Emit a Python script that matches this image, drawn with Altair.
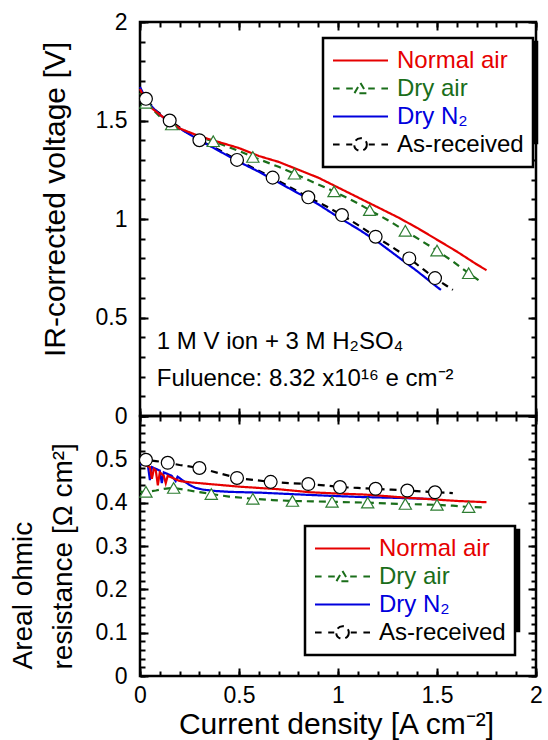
import altair as alt
import pandas as pd

FONT = "Liberation Sans"
SERIES = ["Normal air", "Dry air", "Dry N₂", "As-received"]
COLORS = ["#e60000", "#1a6e1a", "#0000dd", "#000000"]
DASHES = [[1, 0], [7, 5], [1, 0], [7, 5]]
TRI_COLOR = "#2e7d32"
ZW = "\u200b"

# ---------------- top panel: IR-corrected voltage [V]
TOP_NA_X = [0.00, 0.02, 0.05, 0.10, 0.15, 0.20, 0.30, 0.40, 0.50, 0.60, 0.70, 0.80, 0.90, 1.00, 1.10, 1.20, 1.30, 1.40, 1.50, 1.60, 1.70, 1.75]
TOP_NA_Y = [1.66, 1.62, 1.57, 1.53, 1.49, 1.46, 1.42, 1.39, 1.36, 1.32, 1.29, 1.25, 1.21, 1.16, 1.11, 1.06, 1.01, 0.955, 0.895, 0.835, 0.77, 0.74]
TOP_DA_X = [0.00, 0.03, 0.10, 0.16, 0.20, 0.30, 0.37, 0.50, 0.57, 0.70, 0.78, 0.90, 0.98, 1.10, 1.16, 1.25, 1.34, 1.42, 1.50, 1.58, 1.66, 1.73]
TOP_DA_Y = [1.64, 1.59, 1.52, 1.48, 1.455, 1.415, 1.395, 1.345, 1.315, 1.265, 1.23, 1.175, 1.14, 1.08, 1.045, 0.995, 0.94, 0.89, 0.84, 0.785, 0.725, 0.675]
TOP_DN_X = [0.00, 0.02, 0.05, 0.10, 0.15, 0.20, 0.30, 0.40, 0.50, 0.60, 0.70, 0.80, 0.90, 1.00, 1.10, 1.20, 1.30, 1.40, 1.50, 1.52]
TOP_DN_Y = [1.67, 1.63, 1.58, 1.53, 1.49, 1.46, 1.40, 1.345, 1.29, 1.24, 1.185, 1.13, 1.075, 1.01, 0.95, 0.885, 0.81, 0.735, 0.655, 0.64]
TOP_AR_X = [0.00, 0.03, 0.08, 0.15, 0.20, 0.30, 0.40, 0.49, 0.58, 0.67, 0.76, 0.85, 0.94, 1.02, 1.10, 1.19, 1.27, 1.36, 1.43, 1.49, 1.55, 1.58]
TOP_AR_Y = [1.65, 1.61, 1.55, 1.50, 1.465, 1.40, 1.35, 1.30, 1.255, 1.21, 1.16, 1.11, 1.065, 1.02, 0.97, 0.91, 0.86, 0.80, 0.745, 0.70, 0.66, 0.64]
TOP_TRI_X = [0.03, 0.16, 0.37, 0.57, 0.78, 0.98, 1.16, 1.34, 1.50, 1.66]
TOP_TRI_Y = [1.59, 1.48, 1.395, 1.315, 1.23, 1.14, 1.045, 0.94, 0.84, 0.725]
TOP_CIR_X = [0.03, 0.15, 0.30, 0.49, 0.67, 0.85, 1.02, 1.19, 1.36, 1.49]
TOP_CIR_Y = [1.61, 1.50, 1.40, 1.30, 1.21, 1.11, 1.02, 0.91, 0.80, 0.70]

# ---------------- bottom panel: areal ohmic resistance
BOT_NA_X = [0.01, 0.03, 0.05, 0.06, 0.07, 0.08, 0.09, 0.10, 0.11, 0.12, 0.13, 0.14, 0.16, 0.18, 0.20, 0.25, 0.30, 0.40, 0.50, 0.60, 0.70, 0.86, 1.00, 1.12, 1.19, 1.30, 1.40, 1.50, 1.60, 1.75]
BOT_NA_Y = [0.49, 0.486, 0.482, 0.455, 0.478, 0.474, 0.44, 0.47, 0.466, 0.462, 0.445, 0.462, 0.458, 0.454, 0.45, 0.447, 0.445, 0.441, 0.437, 0.434, 0.431, 0.424, 0.421, 0.419, 0.417, 0.413, 0.41, 0.407, 0.404, 0.401]
BOT_DA_X = [0.00, 0.03, 0.08, 0.12, 0.17, 0.25, 0.36, 0.45, 0.57, 0.67, 0.77, 0.87, 0.97, 1.06, 1.15, 1.25, 1.34, 1.42, 1.50, 1.58, 1.66, 1.73]
BOT_DA_Y = [0.425, 0.425, 0.428, 0.432, 0.434, 0.428, 0.42, 0.414, 0.409, 0.406, 0.404, 0.403, 0.402, 0.401, 0.40, 0.398, 0.397, 0.396, 0.395, 0.393, 0.39, 0.389]
BOT_DN_X = [0.00, 0.02, 0.04, 0.05, 0.06, 0.08, 0.10, 0.11, 0.12, 0.14, 0.16, 0.18, 0.19, 0.22, 0.25, 0.28, 0.32, 0.38, 0.45, 0.61, 0.80, 0.95, 1.12, 1.30, 1.50]
BOT_DN_Y = [0.488, 0.49, 0.486, 0.452, 0.482, 0.478, 0.474, 0.445, 0.47, 0.466, 0.462, 0.45, 0.46, 0.45, 0.441, 0.434, 0.43, 0.427, 0.425, 0.423, 0.419, 0.416, 0.413, 0.411, 0.408]
BOT_AR_X = [0.00, 0.03, 0.08, 0.14, 0.20, 0.30, 0.40, 0.49, 0.58, 0.66, 0.75, 0.85, 0.93, 1.01, 1.10, 1.19, 1.27, 1.35, 1.42, 1.49, 1.55, 1.58]
BOT_AR_Y = [0.50, 0.499, 0.496, 0.492, 0.487, 0.48, 0.468, 0.457, 0.452, 0.448, 0.445, 0.443, 0.44, 0.436, 0.434, 0.432, 0.43, 0.428, 0.426, 0.424, 0.423, 0.422]
BOT_TRI_X = [0.03, 0.17, 0.36, 0.57, 0.77, 0.97, 1.15, 1.34, 1.50, 1.66]
BOT_TRI_Y = [0.425, 0.434, 0.42, 0.409, 0.404, 0.402, 0.40, 0.397, 0.395, 0.39]
BOT_CIR_X = [0.03, 0.14, 0.30, 0.49, 0.66, 0.85, 1.01, 1.19, 1.35, 1.49]
BOT_CIR_Y = [0.499, 0.492, 0.48, 0.457, 0.448, 0.443, 0.436, 0.432, 0.428, 0.424]

NOTE_TEXT = ["1 M V ion + 3 M H₂SO₄", "Fuluence: 8.32 x10¹⁶ e cm⁻²"]
NOTE_X = [0.085, 0.085]
NOTE_Y = [0.375, 0.19]

X_LABELS = [0, 0.5, 1, 1.5, 2]
Y_TOP_LABELS = [0, 0.5, 1, 1.5, 2]
Y_BOT_LABELS = [0, 0.1, 0.2, 0.3, 0.4, 0.5]
X_MINOR = [round(i * 0.1, 2) for i in range(21)]
X_MAJOR = [0, 0.5, 1, 1.5, 2]
Y_TOP_MINOR = [round(i * 0.1, 2) for i in range(21)]
Y_TOP_MAJOR = [0, 0.5, 1, 1.5, 2]
Y_BOT_MINOR = [round(i * 0.02, 2) for i in range(31)]
Y_BOT_MAJOR = [round(i * 0.1, 1) for i in range(7)]

P_SOLID = "M-1,0H1"
P_TRI = "M-1,0H-0.76M-0.52,0H-0.28M0,-0.2L0.22,0.17L-0.22,0.17ZM0.28,0H0.52M0.76,0H1"
P_CIR = "M-1,0H-0.76M-0.52,0H-0.3M0.23,0A0.23,0.23 0 1,1 -0.23,0A0.23,0.23 0 1,1 0.23,0ZM0.3,0H0.52M0.76,0H1"
SHAPES = [P_SOLID, P_TRI, P_SOLID, P_CIR]

W = 396
H_TOP = 394
H_BOT = 260


def long_df(parts):
    rows = []
    for name, xs, ys in parts:
        for a, b in zip(xs, ys):
            rows.append({"series": name, "x": a, "y": b})
    return pd.DataFrame(rows)


def pick_expr(values):
    expr = "'%s'" % values[-1]
    for s, v in reversed(list(zip(SERIES[:-1], values[:-1]))):
        expr = "datum.value === '%s' ? '%s' : (%s)" % (s, v, expr)
    return expr


def tick_axis(orient, offset, values, size):
    return alt.Axis(orient=orient, offset=offset, values=values, labels=False, domain=False,
                    grid=False, title=None, ticks=True, tickSize=size, tickWidth=2,
                    tickColor="black")


LEG_COMMON = dict(orient="none", title=None, labelFont=FONT, labelFontSize=24,
                  symbolSize=3025, clipHeight=27, rowPadding=1, padding=9,
                  symbolOffset=0, symbolStrokeWidth=2, labelLimit=300)


def panel(lines_df, tri_df, cir_df, ydom, h, x_axis, y_axis, y_minor, y_major,
          lx, ly, note_df=None):
    xs = alt.Scale(domain=[0, 2], nice=False, zero=False)
    ys = alt.Scale(domain=ydom, nice=False, zero=False)
    leg = alt.Legend(legendX=lx, legendY=ly, strokeColor="black", fillColor="white",
                     symbolType=alt.ExprRef(pick_expr(SHAPES)),
                     labelColor=alt.ExprRef(pick_expr(COLORS)), labelOffset=8,
                     symbolFillColor="transparent", zindex=2, **LEG_COMMON)
    shadow = alt.Legend(legendX=lx + 4, legendY=ly + 4, strokeColor="black", fillColor="black",
                        labelExpr="''", labelOffset=135, symbolOpacity=0, zindex=1,
                        **LEG_COMMON)
    if x_axis is None:
        xl = alt.X("x:Q", scale=xs, axis=None)
    else:
        xl = alt.X("x:Q", scale=xs, axis=x_axis)
    lines = alt.Chart(lines_df).mark_line(strokeWidth=2.2).encode(
        x=xl,
        y=alt.Y("y:Q", scale=ys, axis=y_axis),
        color=alt.Color("series:N", scale=alt.Scale(domain=SERIES, range=COLORS), legend=leg),
        strokeDash=alt.StrokeDash("series:N", scale=alt.Scale(domain=SERIES, range=DASHES), legend=None),
    )
    tri = alt.Chart(tri_df).mark_point(shape="triangle-up", filled=True, fill="white",
                                       stroke=TRI_COLOR, strokeWidth=1.2, size=150, opacity=1).encode(
        x=alt.X("x:Q", scale=xs, axis=tick_axis("top", -h, X_MINOR, 5)),
        y=alt.Y("y:Q", scale=ys, axis=tick_axis("right", -W, y_minor, 5)),
    )
    cir = alt.Chart(cir_df).mark_point(shape="circle", filled=True, fill="white",
                                       stroke="black", strokeWidth=1.2, size=165, opacity=1).encode(
        x=alt.X("x:Q", scale=xs, axis=tick_axis("top", -h, X_MAJOR, 8)),
        y=alt.Y("y:Q", scale=ys, axis=tick_axis("right", -W, y_major, 8)),
    )
    if note_df is not None:
        l4 = alt.Chart(note_df).mark_text(align="left", baseline="middle", font=FONT,
                                          fontSize=24, color="black").encode(
            x=alt.X("x:Q", scale=xs, axis=tick_axis("bottom", -h, X_MINOR, 5)),
            y=alt.Y("y:Q", scale=ys, axis=tick_axis("left", -W, y_minor, 5)),
            text="text:N",
        )
    else:
        l4 = alt.Chart(cir_df).mark_point(opacity=0).encode(
            x=alt.X("x:Q", scale=xs, axis=tick_axis("bottom", -h, X_MINOR, 5)),
            y=alt.Y("y:Q", scale=ys, axis=tick_axis("left", -W, y_minor, 5)),
        )
    l5 = alt.Chart(lines_df).transform_calculate(box="datum.series + '%s'" % ZW).mark_point().encode(
        x=alt.X("x:Q", scale=xs, axis=tick_axis("bottom", -h, X_MAJOR, 8)),
        y=alt.Y("y:Q", scale=ys, axis=tick_axis("left", -W, y_major, 8)),
        opacity=alt.Opacity("box:N", scale=alt.Scale(domain=[s + ZW for s in SERIES], range=[0, 0, 0, 0]),
                            legend=shadow),
    )
    return alt.layer(lines, tri, cir, l4, l5).resolve_axis(
        x="independent", y="independent").properties(width=W, height=h)


top_lines = long_df([("As-received", TOP_AR_X, TOP_AR_Y), ("Dry air", TOP_DA_X, TOP_DA_Y),
                     ("Dry N₂", TOP_DN_X, TOP_DN_Y), ("Normal air", TOP_NA_X, TOP_NA_Y)])
bot_lines = long_df([("As-received", BOT_AR_X, BOT_AR_Y), ("Dry air", BOT_DA_X, BOT_DA_Y),
                     ("Dry N₂", BOT_DN_X, BOT_DN_Y), ("Normal air", BOT_NA_X, BOT_NA_Y)])
top_tri = pd.DataFrame({"x": TOP_TRI_X, "y": TOP_TRI_Y})
top_cir = pd.DataFrame({"x": TOP_CIR_X, "y": TOP_CIR_Y})
bot_tri = pd.DataFrame({"x": BOT_TRI_X, "y": BOT_TRI_Y})
bot_cir = pd.DataFrame({"x": BOT_CIR_X, "y": BOT_CIR_Y})
notes = pd.DataFrame({"text": NOTE_TEXT, "x": NOTE_X, "y": NOTE_Y})

common = dict(labelFont=FONT, labelFontSize=23, labelColor="black", ticks=False,
              domain=False, grid=False, labelFlush=False, labelOverlap=False,
              titleFont=FONT, titleFontWeight="normal", titleColor="black",
              titleBaseline="middle")
top_y_axis = alt.Axis(orient="left", values=Y_TOP_LABELS, format="~g", labelPadding=13,
                      title="IR-corrected voltage [V]", titleFontSize=30, titleX=-85,
                      titleY=177, titleAngle=270, titleAlign="center", **common)
bot_y_axis = alt.Axis(orient="left", values=Y_BOT_LABELS, format="~g", labelPadding=13,
                      title=["Areal ohmic", "resistance [Ω cm²]"], titleFontSize=28,
                      titleLineHeight=40, titleX=-117, titleY=253, titleAngle=270,
                      titleAlign="left", **common)
bot_x_axis = alt.Axis(orient="bottom", values=X_LABELS, format="~g", labelPadding=8,
                      title="Current density [A cm⁻²]", titleFontSize=30, titleX=196,
                      titleY=48, titleAlign="center", **common)

top = panel(top_lines, top_tri, top_cir, [0, 2], H_TOP, None, top_y_axis,
            Y_TOP_MINOR, Y_TOP_MAJOR, 183, 16, notes)
bot = panel(bot_lines, bot_tri, bot_cir, [0, 0.6], H_BOT, bot_x_axis, bot_y_axis,
            Y_BOT_MINOR, Y_BOT_MAJOR, 165, 110)

chart = alt.vconcat(top, bot, spacing=0, bounds="flush").resolve_scale(
    color="independent", strokeDash="independent", opacity="independent"
).resolve_legend(color="independent", opacity="independent").properties(
    padding={"left": 7, "top": 9, "right": 2, "bottom": 2},
).configure_view(stroke="black", strokeWidth=2.5).configure_legend(
    strokeWidth=2.5, labelFont=FONT
)

chart.save("out.html", embed_options={"renderer": "svg", "actions": False})
